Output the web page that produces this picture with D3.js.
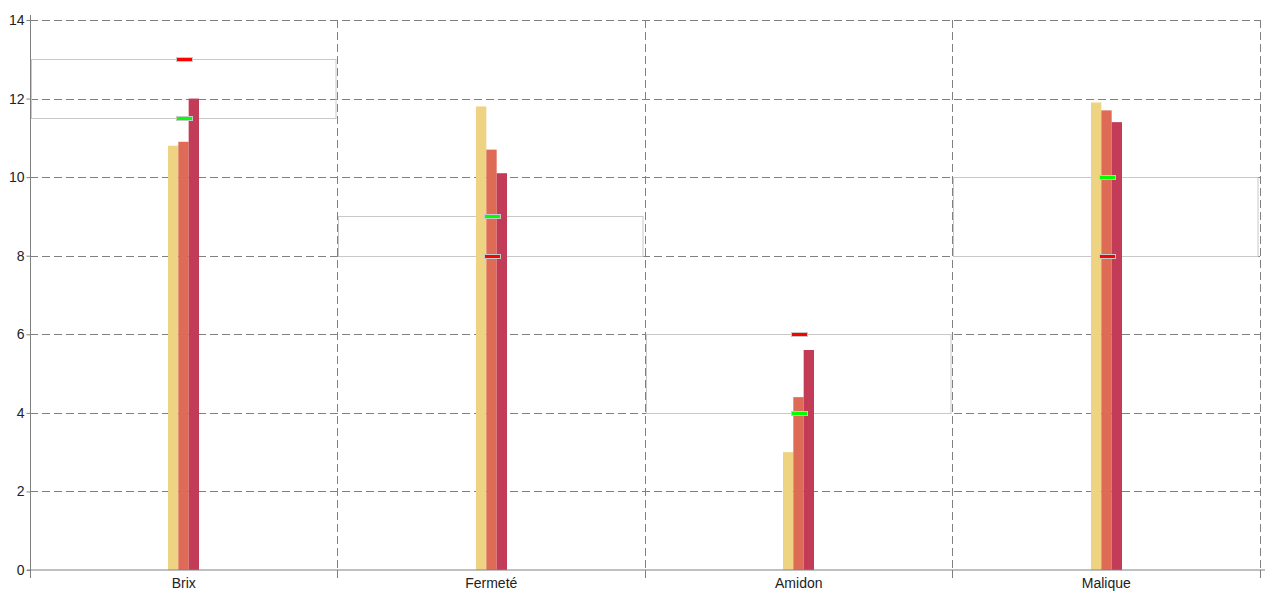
<!DOCTYPE html>
<html>
<head>
<meta charset="utf-8">
<script src="https://cdn.jsdelivr.net/npm/d3@7"></script>
<style>
  body { margin: 0; background: #fff; }
  svg { font-family: "Liberation Sans", Arial, sans-serif; }
</style>
</head>
<body>
<div id="chart"></div>
<script>
// categories and measured values (three samples per category)
const categories = ["Brix", "Fermeté", "Amidon", "Malique"];
const sample1 = [10.8, 11.8, 3.0, 11.9];
const sample2 = [10.9, 10.7, 4.4, 11.7];
const sample3 = [12.0, 10.1, 5.6, 11.4];
// target range per category, with marker colour at each end
const rangeLow = [11.5, 8, 4, 8];
const rangeHigh = [13, 9, 6, 10];
const lowColor = ["#00ff00", "#ff0000", "#00ff00", "#ff0000"];
const highColor = ["#ff0000", "#00ff00", "#ff0000", "#00ff00"];
const yTicks = [0, 2, 4, 6, 8, 10, 12, 14];

const seriesColors = ["#edd382", "#dd6b55", "#c33c57"];

const width = 1280, height = 600;
const margin = { top: 20, right: 20, bottom: 30, left: 30 };

const svg = d3.select("#chart").append("svg")
  .attr("width", width)
  .attr("height", height);

const x = d3.scaleBand()
  .domain(categories)
  .range([margin.left, width - margin.right])
  .padding(0);

const y = d3.scaleLinear()
  .domain([0, 14])
  .range([height - margin.bottom, margin.top]);

const sub = d3.scaleBand()
  .domain([0, 1, 2])
  .range([-16, 15])
  .padding(0);

const edge = d => Math.floor(x(d) + x.bandwidth()) + 0.5;
const mid = d => Math.round(x(d) + x.bandwidth() / 2 + 0.5);

// horizontal dashed grid
svg.append("g")
  .selectAll("line")
  .data(yTicks.filter(d => d > 0))
  .join("line")
  .attr("x1", margin.left)
  .attr("x2", width - margin.right)
  .attr("y1", d => Math.round(y(d)) + 0.5)
  .attr("y2", d => Math.round(y(d)) + 0.5)
  .attr("stroke", "#808080")
  .attr("stroke-dasharray", "8,4");

// vertical dashed grid at band edges
svg.append("g")
  .selectAll("line")
  .data(categories)
  .join("line")
  .attr("x1", edge)
  .attr("x2", edge)
  .attr("y1", y(14))
  .attr("y2", y(0))
  .attr("stroke", "#808080")
  .attr("stroke-dasharray", "8,4");

// target range boxes
const data = categories.map((c, i) => ({
  cat: c,
  vals: [sample1[i], sample2[i], sample3[i]],
  lo: rangeLow[i], hi: rangeHigh[i],
  loC: lowColor[i], hiC: highColor[i]
}));

svg.append("g")
  .selectAll("rect")
  .data(data)
  .join("rect")
  .attr("x", d => Math.floor(x(d.cat)) + 1.5)
  .attr("width", x.bandwidth() - 3)
  .attr("y", d => Math.round(y(d.hi)) + 0.5)
  .attr("height", d => Math.round(y(d.lo)) - Math.round(y(d.hi)))
  .attr("fill", "none")
  .attr("stroke", "#c8c8c8");

// bars
const groups = svg.append("g")
  .selectAll("g")
  .data(data)
  .join("g")
  .attr("transform", d => `translate(${mid(d.cat)},0)`);

groups.selectAll("rect")
  .data(d => d.vals)
  .join("rect")
  .attr("x", (d, i) => sub(i))
  .attr("width", sub.bandwidth())
  .attr("y", d => y(d))
  .attr("height", d => y(0) - y(d))
  .attr("fill", (d, i) => seriesColors[i]);

// range end markers
const markers = [];
data.forEach(d => {
  markers.push({ cat: d.cat, v: d.lo, c: d.loC });
  markers.push({ cat: d.cat, v: d.hi, c: d.hiC });
});
svg.append("g")
  .selectAll("rect")
  .data(markers)
  .join("rect")
  .attr("x", d => mid(d.cat) - 7.5)
  .attr("y", d => Math.round(y(d.v)) - 1.5)
  .attr("width", 16)
  .attr("height", 4)
  .attr("fill", d => d.c)
  .attr("stroke", "#c8c8c8");

// y axis
const yAxis = svg.append("g")
  .attr("transform", `translate(${margin.left + 0.5},0)`)
  .call(d3.axisLeft(y).tickValues(yTicks).tickSize(4).tickSizeOuter(0));
yAxis.select(".domain").remove();
yAxis.selectAll(".tick line").attr("stroke", "#808080");
yAxis.selectAll("text").attr("font-size", 14).attr("fill", "#222")
  .attr("x", -6);
svg.append("line")
  .attr("x1", margin.left + 0.5).attr("x2", margin.left + 0.5)
  .attr("y1", y(14) - 5).attr("y2", y(0) + 8)
  .attr("stroke", "#808080");

// x axis
const xAxis = svg.append("g")
  .attr("transform", `translate(0,${y(0)})`)
  .call(d3.axisBottom(x).tickSize(0));
xAxis.select(".domain").remove();
xAxis.selectAll("text").attr("font-size", 14).attr("fill", "#222").attr("dy", "1.05em");
svg.append("line")
  .attr("x1", margin.left - 3).attr("x2", width - margin.right + 5)
  .attr("y1", y(0)).attr("y2", y(0))
  .attr("stroke", "#808080");
svg.append("g")
  .selectAll("line")
  .data(categories)
  .join("line")
  .attr("x1", edge)
  .attr("x2", edge)
  .attr("y1", y(0))
  .attr("y2", y(0) + 8)
  .attr("stroke", "#808080");
</script>
</body>
</html>
